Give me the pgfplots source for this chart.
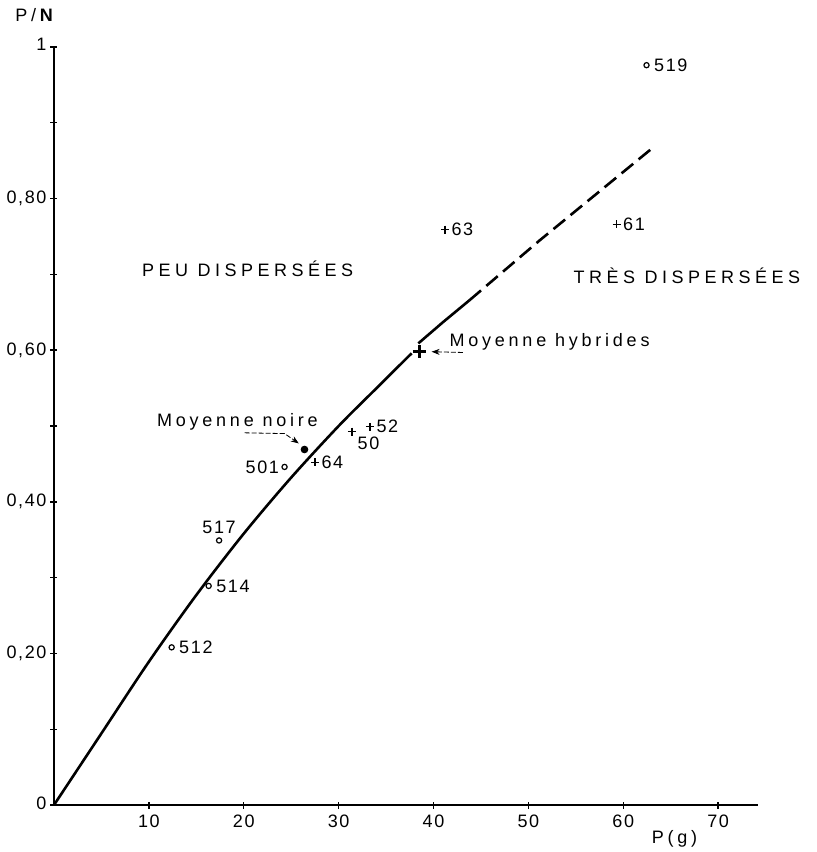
\documentclass[border=0pt]{standalone}
\usepackage{fontspec}
\setmainfont{Liberation Sans}[LetterSpace=21]
\newfontfamily\numfont{Liberation Sans}[LetterSpace=9]
\newfontfamily\capfont{Liberation Sans}[LetterSpace=25]
\usepackage{pgfplots}
\pgfplotsset{compat=1.18}
\usetikzlibrary{arrows.meta}
\begin{document}
\fontsize{9}{11}\selectfont
\begin{tikzpicture}
\begin{axis}[
  scale only axis, width=352pt, height=379pt,
  xmin=0, xmax=74.2, ymin=0, ymax=1,
  axis lines*=left,
  axis line style={line width=0.9pt},
  tick align=center,
  major tick length=3.5pt, minor tick length=3.5pt,
  tick style={line width=0.7pt, black},
  xtick={10,20,30,40,50,60,70},
  ytick={0,0.2,0.4,0.6,0.8,1},
  yticklabels={{\raisebox{2pt}{0}\hspace{6pt}},{0,20},{0,40},{0,60},{0,80},{\raisebox{3pt}{1}\hspace{7pt}}},
  minor ytick={0.1,0.3,0.5,0.7,0.9},
  /pgf/number format/assume math mode=true,
  tick label style={font=\numfont\fontsize{9}{11}\selectfont},
  yticklabel style={xshift=1.2pt},
  clip=false,
]
% curve
\addplot[line width=1.3pt, smooth, no marks] coordinates {
 (0,0) (5,0.0945) (10,0.189) (15,0.277) (20,0.358) (25,0.432)
 (30,0.500) (34,0.550) (37.7,0.596)};
\addplot[line width=1.3pt, no marks] coordinates {(38.4,0.609) (41.0,0.637) (43.8,0.666)};
\addplot[line width=1.3pt, no marks, dash pattern=on 7.5pt off 3.5pt] coordinates {(43.8,0.666) (51.2,0.745) (63.2,0.868)};
% open circles, label right
\addplot[only marks, mark=o, mark size=1.3pt, mark options={line width=0.6pt},
  nodes near coords, point meta=explicit symbolic,
  every node near coord/.append style={anchor=west, inner sep=0pt, xshift=3.5pt, font=\numfont\fontsize{9}{11}\selectfont}]
  coordinates {(62.45,0.976)[519] (12.4,0.208)[512] (16.3,0.289)[514]};
% open circle, label left
\addplot[only marks, mark=o, mark size=1.3pt, mark options={line width=0.6pt},
  nodes near coords, point meta=explicit symbolic,
  every node near coord/.append style={anchor=east, inner sep=0pt, xshift=-2.5pt, font=\numfont\fontsize{9}{11}\selectfont}]
  coordinates {(24.3,0.446)[501]};
% open circle, label above
\addplot[only marks, mark=o, mark size=1.3pt, mark options={line width=0.6pt},
  nodes near coords, point meta=explicit symbolic,
  every node near coord/.append style={anchor=south, inner sep=0pt, yshift=3pt, font=\numfont\fontsize{9}{11}\selectfont}]
  coordinates {(17.4,0.349)[517]};
% plus marks, label right
\addplot[only marks, mark=+, mark size=2pt, mark options={line width=0.6pt},
  nodes near coords, point meta=explicit symbolic,
  every node near coord/.append style={anchor=west, inner sep=0pt, xshift=3pt, font=\numfont\fontsize{9}{11}\selectfont}]
  coordinates {(59.3,0.766)[61] (41.2,0.759)[63] (33.3,0.499)[52] (27.5,0.452)[64]};
% plus, label below right
\addplot[only marks, mark=+, mark size=2pt, mark options={line width=0.6pt},
  nodes near coords, point meta=explicit symbolic,
  every node near coord/.append style={anchor=center, inner sep=0pt, xshift=8.3pt, yshift=-5.8pt, font=\numfont\fontsize{9}{11}\selectfont}]
  coordinates {(31.4,0.4925)[50]};
% means
\addplot[only marks, mark=+, mark size=3.3pt, mark options={line width=1.3pt}] coordinates {(38.5,0.598)};
\addplot[only marks, mark=*, mark size=1.7pt] coordinates {(26.4,0.469)};
% annotations
\node[anchor=base, inner sep=0pt] at (axis cs:19.33,0.499) {Moyenne noire};
\draw[line width=0.4pt, dash pattern=on 2.5pt off 1pt, -{Stealth[length=4pt,width=3pt]}]
  (axis cs:20.1,0.491) -- (axis cs:24.3,0.490) -- (axis cs:25.8,0.477);
\node[anchor=base west, inner sep=0pt] at (axis cs:41.65,0.6046) {Moyenne hybrides};
\draw[line width=0.4pt, dash pattern=on 2.5pt off 1pt, -{Stealth[length=4pt,width=3pt]}]
  (axis cs:43.1,0.597) -- (axis cs:39.8,0.598);
\node[anchor=base, inner sep=0pt, font=\capfont] at (axis cs:20.4,0.697) {PEU DISPERSÉES};
\node[anchor=base, inner sep=0pt, font=\capfont] at (axis cs:66.7,0.688) {TRÈS DISPERSÉES};
\node[anchor=base, inner sep=0pt] at (axis cs:65.4,0) [yshift=-19pt] {P(g)};
\node[anchor=base, inner sep=0pt] at (axis cs:-1.9,1.033) {P/\textbf{N}};
\end{axis}
\pgfresetboundingbox
\useasboundingbox (-27pt,-23.5pt) rectangle (381pt,402.5pt);
\end{tikzpicture}
\end{document}
